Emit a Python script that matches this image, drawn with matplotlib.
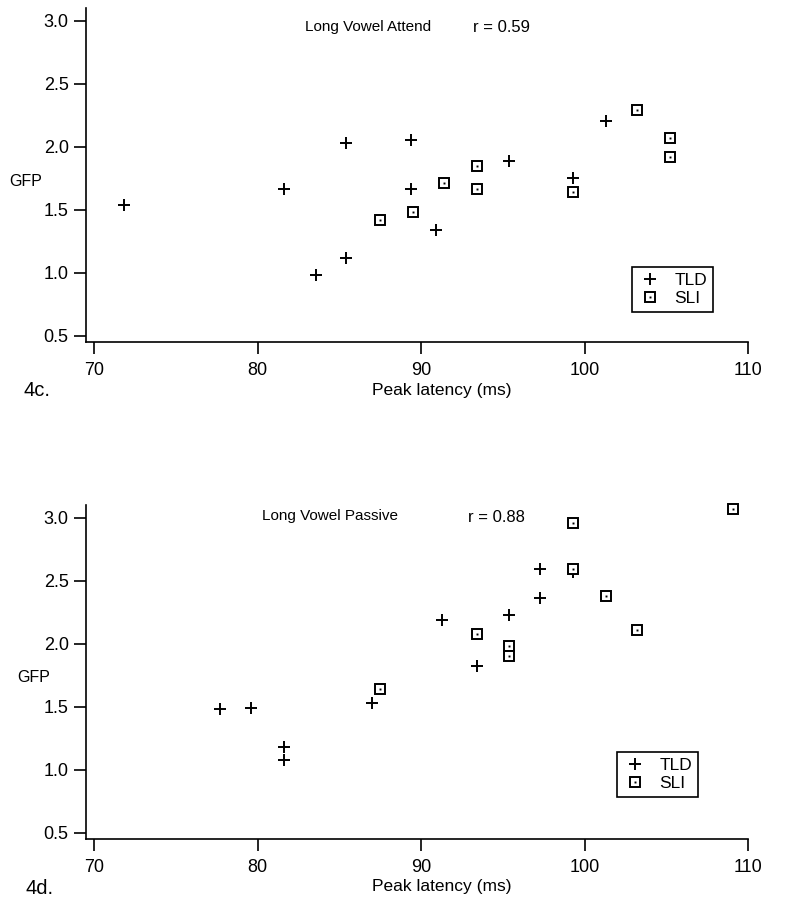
import numpy as np
import matplotlib
matplotlib.use("Agg")
import matplotlib.pyplot as plt
from matplotlib.lines import Line2D

plt.rcParams['font.family'] = ['Liberation Sans', 'DejaVu Sans']

# --- data ---
# 4c. Long Vowel Attend
tld_c_x = [71.8, 81.6, 83.6, 85.4, 85.4, 89.4, 89.4, 90.9, 95.4, 99.3, 101.3]
tld_c_y = [1.54, 1.66, 0.98, 1.12, 2.03, 2.05, 1.66, 1.34, 1.89, 1.75, 2.20]
sli_c_x = [87.5, 89.5, 91.4, 93.4, 93.4, 99.3, 103.2, 105.2, 105.2]
sli_c_y = [1.42, 1.48, 1.71, 1.85, 1.66, 1.64, 2.29, 2.07, 1.92]

# 4d. Long Vowel Passive
tld_d_x = [77.7, 79.6, 81.6, 81.6, 87.0, 91.3, 93.4, 95.4, 97.3, 97.3, 99.3]
tld_d_y = [1.48, 1.49, 1.18, 1.08, 1.53, 2.19, 1.82, 2.23, 2.36, 2.59, 2.57]
sli_d_x = [87.5, 93.4, 95.4, 95.4, 99.3, 99.3, 101.3, 103.2, 109.1]
sli_d_y = [1.64, 2.08, 1.98, 1.90, 2.96, 2.59, 2.38, 2.11, 3.07]

xticks = [70, 80, 90, 100, 110]
yticks = [0.5, 1.0, 1.5, 2.0, 2.5, 3.0]

fig = plt.figure(figsize=(8, 9), dpi=100)

PLUS = dict(linestyle='none', marker='+', color='black',
            markersize=9, markeredgewidth=1.4)
SQ = dict(linestyle='none', marker='s', markerfacecolor='white',
          markeredgecolor='black', markersize=7.5, markeredgewidth=1.4)
DOT = dict(linestyle='none', marker='s', color='black',
           markersize=1.4, markeredgewidth=0)


def px(x, y):
    # pixel position -> figure fraction
    return x / 800, 1 - y / 900


def panel(rect, tx, ty, sx, sy, title, r_text, title_xy, r_xy, gfp_xy,
          lbl, lbl_xy, xlab_y, leg_xy):
    ax = fig.add_axes(rect)
    ax.plot(tx, ty, clip_on=False, **PLUS)
    ax.plot(sx, sy, clip_on=False, **SQ)
    ax.plot(sx, sy, clip_on=False, **DOT)
    ax.set_xlim(69.5, 110)
    ax.set_ylim(0.45, 3.1)
    ax.set_xticks(xticks)
    ax.set_yticks(yticks)
    ax.set_yticklabels(['%.1f' % v for v in yticks])
    for s in ['top', 'right']:
        ax.spines[s].set_visible(False)
    for s in ['left', 'bottom']:
        ax.spines[s].set_linewidth(1.2)
    ax.tick_params(direction='out', length=8.5, width=1.2, labelsize=13, pad=4)
    ax.tick_params(axis='x', pad=6)

    fig.text(*px(*title_xy), title, fontsize=11, va='center', ha='left')
    fig.text(*px(*r_xy), r_text, fontsize=12, va='center', ha='left')
    fig.text(*px(*gfp_xy), 'GFP', fontsize=11.5, va='center', ha='left')
    fig.text(*px(*lbl_xy), lbl, fontsize=14.5, va='center', ha='left')
    fig.text(*px(442, xlab_y), 'Peak latency (ms)', fontsize=12.5,
             va='center', ha='center')

    leg = fig.legend([Line2D([], [], **PLUS),
                      (Line2D([], [], **SQ), Line2D([], [], **DOT))],
                     ['TLD', 'SLI'],
                     loc='upper left', bbox_to_anchor=px(*leg_xy),
                     fontsize=12.5, frameon=True, fancybox=False,
                     edgecolor='black', framealpha=1, handlelength=1.4,
                     handletextpad=0.7, borderpad=0.35, labelspacing=0.15,
                     borderaxespad=0)
    leg.get_frame().set_linewidth(1.2)
    return ax


panel([86 / 800, 1 - 342 / 900, 662 / 800, 334 / 900],
      tld_c_x, tld_c_y, sli_c_x, sli_c_y,
      'Long Vowel Attend', 'r = 0.59', (305, 27), (473, 27), (9, 182),
      '4c.', (24, 390), 391, (632, 267))

panel([86 / 800, 1 - 839 / 900, 662 / 800, 334 / 900],
      tld_d_x, tld_d_y, sli_d_x, sli_d_y,
      'Long Vowel Passive', 'r = 0.88', (262, 516), (468, 517), (17, 677),
      '4d.', (26, 888), 886, (617, 752))

fig.savefig('out.png', dpi=100)
